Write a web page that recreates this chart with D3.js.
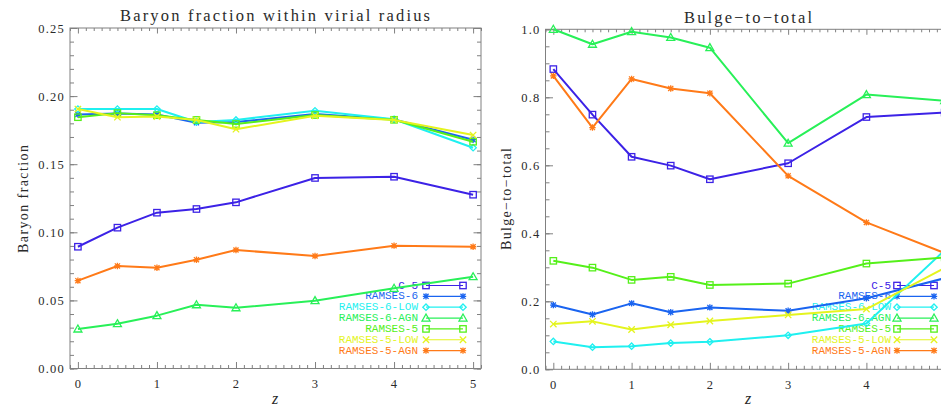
<!DOCTYPE html>
<html>
<head>
<meta charset="utf-8">
<script src="https://cdn.jsdelivr.net/npm/d3@7/dist/d3.min.js"></script>
<style>
  html, body { margin: 0; padding: 0; background: #fff; overflow: hidden; }
  svg { display: block; }
</style>
</head>
<body>
<script>
// Redshift sampling shared by every series
const redshifts = [0, 0.5, 1, 1.5, 2, 3, 4, 5];

const runNames = ["C-5", "RAMSES-6", "RAMSES-6-LOW", "RAMSES-6-AGN", "RAMSES-5", "RAMSES-5-LOW", "RAMSES-5-AGN"];

// Baryon fraction within the virial radius
const baryonC5          = [0.0894, 0.1034, 0.1144, 0.1171, 0.1220, 0.1399, 0.1408, 0.1276];
const baryonRamses6     = [0.1865, 0.1872, 0.1865, 0.1805, 0.1810, 0.1869, 0.1828, 0.1680];
const baryonRamses6Low  = [0.1905, 0.1905, 0.1905, 0.1810, 0.1825, 0.1892, 0.1830, 0.1621];
const baryonRamses6Agn  = [0.0290, 0.0329, 0.0388, 0.0468, 0.0446, 0.0498, 0.0589, 0.0674];
const baryonRamses5     = [0.1845, 0.1875, 0.1860, 0.1825, 0.1795, 0.1861, 0.1826, 0.1665];
const baryonRamses5Low  = [0.1905, 0.1845, 0.1850, 0.1825, 0.1757, 0.1855, 0.1825, 0.1714];
const baryonRamses5Agn  = [0.0645, 0.0753, 0.0740, 0.0799, 0.0870, 0.0826, 0.0902, 0.0894];

// Bulge-to-total ratio
const bulgeC5           = [0.883, 0.749, 0.625, 0.599, 0.559, 0.606, 0.742, 0.755];
const bulgeRamses6      = [0.189, 0.161, 0.194, 0.168, 0.182, 0.172, 0.209, 0.268];
const bulgeRamses6Low   = [0.082, 0.065, 0.068, 0.077, 0.081, 0.100, 0.135, 0.350];
const bulgeRamses6Agn   = [1.000, 0.956, 0.993, 0.976, 0.946, 0.665, 0.808, 0.790];
const bulgeRamses5      = [0.319, 0.299, 0.263, 0.272, 0.248, 0.252, 0.311, 0.329];
const bulgeRamses5Low   = [0.133, 0.141, 0.117, 0.131, 0.142, 0.160, 0.177, 0.298];
const bulgeRamses5Agn   = [0.863, 0.711, 0.854, 0.826, 0.812, 0.569, 0.432, 0.342];

// Axis tick values
const zTicks = [0, 1, 2, 3, 4, 5];
const baryonTicks = [0.00, 0.05, 0.10, 0.15, 0.20, 0.25];
const bulgeTicks = [0.0, 0.2, 0.4, 0.6, 0.8, 1.0];

// Per-run drawing style
const runColors = ["#3c22e6", "#1a64f0", "#1ff0f0", "#28f058", "#55f01a", "#e4f41e", "#ff7a18"];
const runSymbols = ["square", "asterisk", "diamond", "triangle", "square", "cross", "asterisk"];

const W = 941, H = 408;
const svg = d3.select("body").append("svg").attr("width", W).attr("height", H);

const AXIS_COLOR = "#808080";
const TEXT_COLOR = "#2a2a2a";
const SERIF = "'Liberation Serif', 'DejaVu Serif', serif";

function drawSymbol(g, kind, cx, cy, color) {
  const s = 3.2;
  const st = { stroke: color, "stroke-width": 1.3, fill: "none" };
  let el;
  if (kind === "square") {
    el = g.append("rect").attr("x", cx - s).attr("y", cy - s).attr("width", 2 * s).attr("height", 2 * s);
  } else if (kind === "diamond") {
    el = g.append("path").attr("d", `M${cx},${cy - s}L${cx + s},${cy}L${cx},${cy + s}L${cx - s},${cy}Z`);
  } else if (kind === "triangle") {
    const t = 4;
    el = g.append("path").attr("d", `M${cx},${cy - t}L${cx + t},${cy + t * 0.75}L${cx - t},${cy + t * 0.75}Z`);
  } else if (kind === "cross") {
    el = g.append("path").attr("d", `M${cx - s},${cy - s}L${cx + s},${cy + s}M${cx - s},${cy + s}L${cx + s},${cy - s}`);
  } else {
    const d = s * 0.8;
    el = g.append("path").attr("d",
      `M${cx - s},${cy}L${cx + s},${cy}M${cx},${cy - s}L${cx},${cy + s}` +
      `M${cx - d},${cy - d}L${cx + d},${cy + d}M${cx - d},${cy + d}L${cx + d},${cy - d}`);
  }
  Object.entries(st).forEach(([k, v]) => el.attr(k, v));
}

function styleAxis(g) {
  g.select(".domain").remove();
  g.selectAll("line").attr("stroke", AXIS_COLOR).attr("stroke-width", 1);
  g.selectAll("text")
    .attr("fill", TEXT_COLOR)
    .attr("font-family", SERIF)
    .attr("font-size", 12.5)
    .attr("letter-spacing", 1.2);
}

function drawPanel(p) {
  const x = d3.scaleLinear().domain([-0.1, 5.1]).range([p.left, p.right]);
  const y = d3.scaleLinear().domain(p.yDomain).range([p.bottom, p.top]);
  const root = svg.append("g");

  const clipId = "clip-" + p.id;
  root.append("clipPath").attr("id", clipId)
    .append("rect").attr("x", p.left).attr("y", p.top - 6)
    .attr("width", p.right - p.left).attr("height", p.bottom - p.top + 12);

  // minor ticks along z
  const zMinor = d3.range(-1, 52).map(i => i / 10).filter(v => Math.abs(v - Math.round(v)) > 1e-6);
  root.append("g").attr("transform", `translate(0,${p.bottom})`)
    .call(d3.axisBottom(x).tickValues(zMinor).tickSize(-3.5).tickFormat(""))
    .call(styleAxis);
  root.append("g").attr("transform", `translate(0,${p.top})`)
    .call(d3.axisTop(x).tickValues(zMinor).tickSize(-3).tickFormat(""))
    .call(styleAxis);
  // major ticks along z
  root.append("g").attr("transform", `translate(0,${p.bottom})`)
    .call(d3.axisBottom(x).tickValues(zTicks).tickSize(-6.5).tickPadding(11).tickFormat(d3.format("d")))
    .call(styleAxis);
  root.append("g").attr("transform", `translate(0,${p.top})`)
    .call(d3.axisTop(x).tickValues(zTicks).tickSize(-5.5).tickFormat(""))
    .call(styleAxis);

  // y ticks
  root.append("g").attr("transform", `translate(${p.left},0)`)
    .call(d3.axisLeft(y).tickValues(p.yMinor).tickSize(-4).tickFormat(""))
    .call(styleAxis);
  root.append("g").attr("transform", `translate(${p.left},0)`)
    .call(d3.axisLeft(y).tickValues(p.yTicks).tickSize(-7.5).tickPadding(5).tickFormat(d3.format(p.yFormat)))
    .call(styleAxis);
  root.append("g").attr("transform", `translate(${p.right},0)`)
    .call(d3.axisRight(y).tickValues(p.yMinor).tickSize(-4).tickFormat(""))
    .call(styleAxis);
  root.append("g").attr("transform", `translate(${p.right},0)`)
    .call(d3.axisRight(y).tickValues(p.yTicks).tickSize(-7.5).tickFormat(""))
    .call(styleAxis);

  // plot frame
  root.append("rect")
    .attr("x", p.left).attr("y", p.top)
    .attr("width", p.right - p.left).attr("height", p.bottom - p.top)
    .attr("fill", "none").attr("stroke", AXIS_COLOR).attr("stroke-width", 1);

  // titles
  root.append("text")
    .attr("x", p.titleX).attr("y", p.titleY)
    .attr("text-anchor", "middle")
    .attr("font-family", SERIF).attr("font-size", 16.5)
    .attr("fill", TEXT_COLOR)
    .attr("textLength", p.titleLen).attr("lengthAdjust", "spacing")
    .text(p.title);
  root.append("text")
    .attr("transform", `translate(${p.yLabelX},${p.yLabelY}) rotate(-90)`)
    .attr("text-anchor", "middle")
    .attr("font-family", SERIF).attr("font-size", 14)
    .attr("fill", TEXT_COLOR)
    .attr("textLength", p.yLabelLen).attr("lengthAdjust", "spacing")
    .text(p.yLabel);
  root.append("text")
    .attr("x", p.titleX).attr("y", 404)
    .attr("text-anchor", "middle")
    .attr("font-family", SERIF).attr("font-size", 16).attr("font-style", "italic")
    .attr("fill", TEXT_COLOR)
    .text("z");

  // legend
  const leg = root.append("g");
  runNames.forEach((name, i) => {
    const ly = p.legendY + i * 10.85;
    leg.append("text")
      .attr("x", p.legendTextX).attr("y", ly + 3)
      .attr("text-anchor", "end")
      .attr("font-family", "'Liberation Mono', 'DejaVu Sans Mono', monospace")
      .attr("font-size", 11)
      .attr("fill", runColors[i])
      .text(name);
    leg.append("line")
      .attr("x1", p.legendLineX0).attr("x2", p.legendLineX1)
      .attr("y1", ly).attr("y2", ly)
      .attr("stroke", runColors[i]).attr("stroke-width", 1.2);
    drawSymbol(leg, runSymbols[i], p.legendLineX0, ly, runColors[i]);
    drawSymbol(leg, runSymbols[i], p.legendLineX1, ly, runColors[i]);
  });

  // data
  const data = root.append("g").attr("clip-path", `url(#${clipId})`);
  const line = d3.line().x((d, i) => x(redshifts[i])).y(d => y(d));
  p.series.forEach((vals, i) => {
    data.append("path")
      .attr("d", line(vals))
      .attr("fill", "none")
      .attr("stroke", runColors[i])
      .attr("stroke-width", 2)
      .attr("stroke-linejoin", "round");
    vals.forEach((v, j) => drawSymbol(data, runSymbols[i], x(redshifts[j]), y(v), runColors[i]));
  });
}

drawPanel({
  id: "baryon",
  left: 70, right: 481, top: 28, bottom: 368.5,
  yDomain: [0, 0.25],
  yTicks: baryonTicks,
  yMinor: d3.range(0, 26).map(i => i / 100),
  yFormat: ".2f",
  title: "Baryon fraction within virial radius",
  titleX: 275, titleY: 20.5, titleLen: 310,
  yLabel: "Baryon fraction", yLabelX: 28, yLabelY: 199, yLabelLen: 108,
  legendY: 285.5, legendTextX: 418, legendLineX0: 426, legendLineX1: 463,
  series: [baryonC5, baryonRamses6, baryonRamses6Low, baryonRamses6Agn, baryonRamses5, baryonRamses5Low, baryonRamses5Agn]
});

drawPanel({
  id: "bulge",
  left: 545.5, right: 952.5, top: 29.3, bottom: 369.3,
  yDomain: [0, 1],
  yTicks: bulgeTicks,
  yMinor: d3.range(0, 21).map(i => i / 20),
  yFormat: ".1f",
  title: "Bulge\u2212to\u2212total",
  titleX: 748, titleY: 22.5, titleLen: 128,
  yLabel: "Bulge\u2212to\u2212total", yLabelX: 511, yLabelY: 199, yLabelLen: 102,
  legendY: 285.5, legendTextX: 891, legendLineX0: 897, legendLineX1: 934,
  series: [bulgeC5, bulgeRamses6, bulgeRamses6Low, bulgeRamses6Agn, bulgeRamses5, bulgeRamses5Low, bulgeRamses5Agn]
});
</script>
</body>
</html>
